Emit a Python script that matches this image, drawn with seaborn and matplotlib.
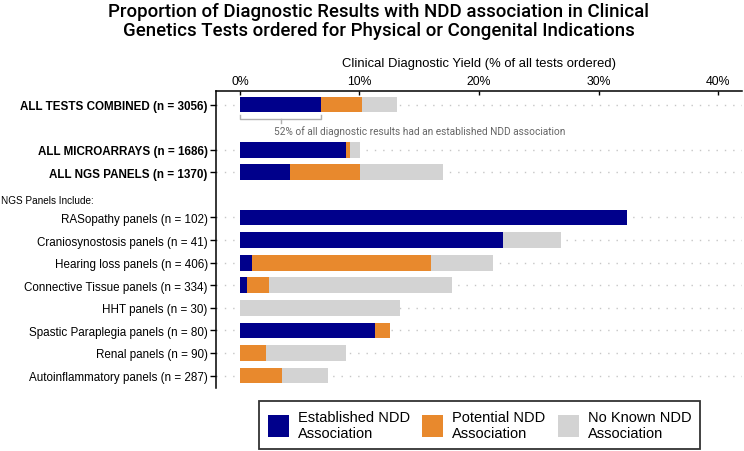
"""
Stacked horizontal bars: diagnostic yield split by NDD association status.
"""

import matplotlib
matplotlib.use("Agg")
import matplotlib.pyplot as plt
import numpy as np
import pandas as pd
import seaborn as sns
from matplotlib.patches import Patch

# --- data (percent of all tests ordered) ---
labels = [
    "ALL TESTS COMBINED (n = 3056)",
    "ALL MICROARRAYS (n = 1686)",
    "ALL NGS PANELS (n = 1370)",
    "RASopathy panels (n = 102)",
    "Craniosynostosis panels (n = 41)",
    "Hearing loss panels (n = 406)",
    "Connective Tissue panels (n = 334)",
    "HHT panels (n = 30)",
    "Spastic Paraplegia panels (n = 80)",
    "Renal panels (n = 90)",
    "Autoinflammatory panels (n = 287)",
]
established = [6.8, 8.9, 4.2, 32.4, 22.0, 1.0, 0.6, 0.0, 11.3, 0.0, 0.0]
potential = [3.45, 0.35, 5.85, 0.0, 0.0, 15.0, 1.8, 0.0, 1.25, 2.2, 3.5]
no_known = [2.85, 0.8, 6.9, 0.0, 4.85, 5.2, 15.3, 13.4, 0.0, 6.7, 3.85]
bold_rows = labels[:3]
x_ticks = [0, 10, 20, 30, 40]
legend_labels = ["Established NDD\nAssociation", "Potential NDD\nAssociation", "No Known NDD\nAssociation"]
annotation_text = "52% of all diagnostic results had an established NDD association"

COLORS = ["#00008B", "#E8892D", "#D3D3D3"]

# slot order with two blank rows: one for the annotation, one for the panel heading
order = [labels[0], "_gap_note", labels[1], labels[2], "_gap_head"] + labels[3:]

df = pd.DataFrame({"row": labels, "est": established, "pot": potential, "none": no_known})
df["cum_pot"] = df["est"] + df["pot"]
df["cum_all"] = df["cum_pot"] + df["none"]

label_font = "Liberation Sans"
fig = plt.figure(figsize=(7.44, 4.52), dpi=100)
ax = fig.add_axes([216 / 744, 1 - 389 / 452, (742 - 216) / 744, (389 - 92) / 452])

for col, color in zip(["cum_all", "cum_pot", "est"], COLORS[::-1]):
    sns.barplot(data=df, y="row", x=col, order=order, orient="h", color=color,
                width=0.7, linewidth=0, saturation=1, ax=ax, zorder=2)

ax.set_xlim(-2.0, 42.0)
ax.set_ylim(12.55, -0.6)

# y ticks only on real rows
real_pos = [order.index(l) for l in labels]
ax.set_yticks(real_pos)
ax.set_yticklabels(labels, fontsize=8.4, family=label_font)
for t in ax.get_yticklabels():
    if t.get_text() in bold_rows:
        t.set_fontweight("bold")
ax.set_ylabel("")
ax.tick_params(axis="y", length=4, width=1, color="black", pad=2)

# x axis on top
ax.xaxis.tick_top()
ax.xaxis.set_label_position("top")
ax.set_xticks(x_ticks)
ax.set_xticklabels([f"{v}%" for v in x_ticks], fontsize=8.8, family=label_font)
ax.tick_params(axis="x", direction="in", length=3, width=1, pad=3)
ax.set_xlabel("Clinical Diagnostic Yield (% of all tests ordered)", fontsize=9.4,
              family=label_font, labelpad=6)

for side in ["right", "bottom"]:
    ax.spines[side].set_visible(False)
ax.spines["top"].set_linewidth(1.1)
ax.spines["left"].set_linewidth(1.1)

ax.set_axisbelow(True)
ax.grid(axis="y", color="#c6c6c6", linestyle=(0, (1, 5)), linewidth=1.0, zorder=0)
ax.grid(axis="x", visible=False)

# bracket + annotation under the combined bar
bx0, bx1 = 0.0, established[0]
by, btop, bbot = 0.63, 0.47, 0.8
bc = "#b0b0b0"
ax.plot([bx0, bx0, bx1, bx1], [btop, by, by, btop], color=bc, lw=1, clip_on=False)
ax.plot([(bx0 + bx1) / 2] * 2, [by, bbot], color=bc, lw=1)
ax.text(2.85, 1.15, annotation_text, fontsize=7.25, color="#666666", family="Roboto",
        ha="left", va="center")

fig.text(379 / 744, 1 - 3 / 452,
         "Proportion of Diagnostic Results with NDD association in Clinical\n"
         "Genetics Tests ordered for Physical or Congenital Indications",
         ha="center", va="top", fontsize=13.4, family="Roboto", fontweight="medium",
         linespacing=1.05)

fig.text(1 / 744, 1 - 200.7 / 452, "NGS Panels Include:", fontsize=7.2, family=label_font,
         ha="left", va="center")

handles = [Patch(facecolor=c, edgecolor="none") for c in COLORS]
leg = fig.legend(handles, legend_labels, ncol=3, loc="lower center",
                 bbox_to_anchor=(479.5 / 744, 2 / 452), borderaxespad=0,
                 frameon=True, fancybox=False,
                 prop={"family": label_font, "size": 10.5}, handlelength=1.45,
                 handleheight=1.9, columnspacing=0.85, handletextpad=0.6,
                 borderpad=0.6)
leg.get_frame().set_edgecolor("black")
leg.get_frame().set_linewidth(1.3)

fig.savefig("out.png", dpi=100)
